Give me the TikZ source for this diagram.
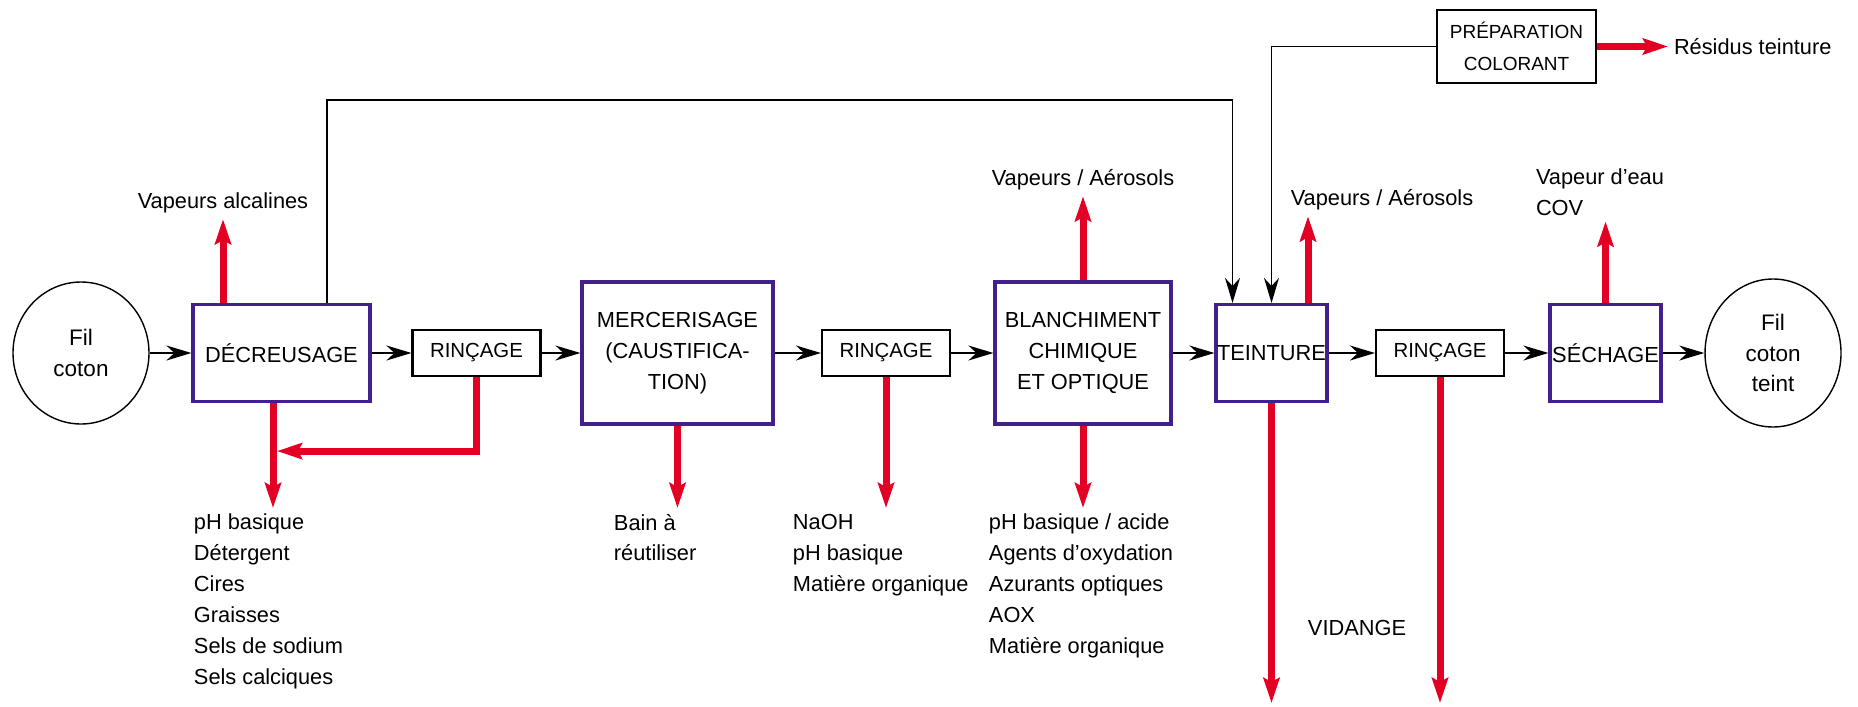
\documentclass[tikz,border=0pt]{standalone}
\usepackage{fontspec}
\setmainfont{Liberation Sans}
\usepackage{xcolor}
\usepackage{tikz}
\usetikzlibrary{arrows.meta,positioning,shapes.geometric}
\definecolor{stepviolet}{RGB}{66,32,140}
\definecolor{wastered}{RGB}{226,0,36}

\begin{document}
\begin{tikzpicture}[x=0.1mm, y=-0.1mm,
    process/.style={draw=stepviolet, line width=0.9pt, align=center, inner sep=0pt, font=\fontsize{6.2}{8.8}\selectfont},
    rinse/.style={draw, line width=0.6pt, minimum width=12.8mm, minimum height=4.6mm, inner sep=0pt, align=center, font=\fontsize{5.8}{9.1}\selectfont},
    fibre/.style={draw, ellipse, line width=0.4pt, minimum width=13.6mm, minimum height=14.2mm, inner sep=0pt, align=center, font=\fontsize{6.4}{8.6}\selectfont},
    note/.style={inner sep=1.5pt, align=left, font=\fontsize{6.2}{8.8}\selectfont},
    flow/.style={-{Stealth[length=2.5mm,width=1.5mm,inset=0.8mm]}, line width=0.45pt},
    waste/.style={-{Stealth[length=2.5mm,width=1.6mm,inset=0.4mm]}, line width=0.7mm, wastered},
]

\fill[white] (0,0) rectangle (1858,706);

% === Main line ===
\node[fibre] (filin) at (81,353) {Fil\\coton};
\node[process, minimum width=17.7mm, minimum height=9.7mm] (decr) at (281.5,353) {DÉCREUSAGE};
\node[rinse] (rinA) at (476.5,353) {RINÇAGE};
\node[process, minimum width=19.1mm, minimum height=14.2mm] (merc) at (677.5,353) {MERCERISAGE\\(CAUSTIFICA-\\TION)};
\node[rinse] (rinB) at (886,353) {RINÇAGE};
\node[process, minimum width=17.6mm, minimum height=14.2mm] (blanc) at (1083,353) {BLANCHIMENT\\CHIMIQUE\\ET OPTIQUE};
\node[process, minimum width=11.1mm, minimum height=9.7mm] (teint) at (1271.5,353) {TEINTURE};
\node[rinse] (rinC) at (1440,353) {RINÇAGE};
\node[process, minimum width=11.1mm, minimum height=9.7mm] (sech) at (1605.5,353) {SÉCHAGE};
\node[fibre, minimum height=14.8mm] (filout) at (1773,353) {Fil\\coton\\teint};

\node[rinse, minimum width=15.9mm, minimum height=7.3mm, font=\fontsize{5.4}{9.1}\selectfont] (prep) at (1516.5,46.5) {PRÉPARATION\\COLORANT};

\foreach \a/\b in {filin/decr, decr/rinA, rinA/merc, merc/rinB, rinB/blanc, blanc/teint, teint/rinC, rinC/sech, sech/filout}
    \draw[flow] (\a) -- (\b);

% === Feed lines into dyeing ===
\draw[flow] ([xshift=4.55mm]decr.north) -- ++(0,-203) -| ([xshift=-3.9mm]teint.north);
\draw[flow] (prep.west) -| (teint.north);

% === Emissions to air ===
\node[note] (vapalc) at (223,203) {Vapeurs alcalines};
\node[note] (vapblanc) at (1083,180) {Vapeurs / Aérosols};
\node[note] (vapteint) at (1382,200) {Vapeurs / Aérosols};
\node[note, anchor=west] (vapeau) at (1530,192) {Vapeur d’eau\\COV};
\node[note, anchor=west] (resid) at (1668,46.5) {Résidus teinture};

\draw[waste] (vapalc.south |- decr.north) -- (vapalc.south);
\draw[waste] (blanc.north) -- (blanc.north |- vapblanc.south);
\draw[waste] ([xshift=3.65mm]teint.north) -- ([xshift=3.65mm]teint.north |- vapteint.south);
\draw[waste] (sech.north) -- (sech.north |- vapeau.south);
\draw[waste] (prep.east) -- (resid.west);

% === Liquid effluents ===
\node[note, anchor=north west] (outdecr) at (188,508) {pH basique\\Détergent\\Cires\\Graisses\\Sels de sodium\\Sels calciques};
\node[note, anchor=north west] (outmerc) at (608,508) {Bain à\\réutiliser};
\node[note, anchor=north west] (outrinB) at (787,508) {NaOH\\pH basique\\Matière organique};
\node[note, anchor=north west] (outblanc) at (983,508) {pH basique / acide\\Agents d’oxydation\\Azurants optiques\\AOX\\Matière organique};
\node[note] (vidange) at (1357,628) {VIDANGE};
\coordinate (drain) at (1300,703);

\draw[waste] ([xshift=-0.85mm]decr.south) -- ([xshift=-0.85mm]decr.south |- outdecr.north);
\draw[waste] (rinA.south) |- ([xshift=-0.45mm,yshift=-4.8mm]decr.south);
\draw[waste] (merc.south) -- (merc.south |- outmerc.north);
\draw[waste] (rinB.south) -- (rinB.south |- outrinB.north);
\draw[waste] (blanc.south) -- (blanc.south |- outblanc.north);
\draw[waste] (teint.south) -- (teint.south |- drain);
\draw[waste] (rinC.south) -- (rinC.south |- drain);

\end{tikzpicture}
\end{document}
